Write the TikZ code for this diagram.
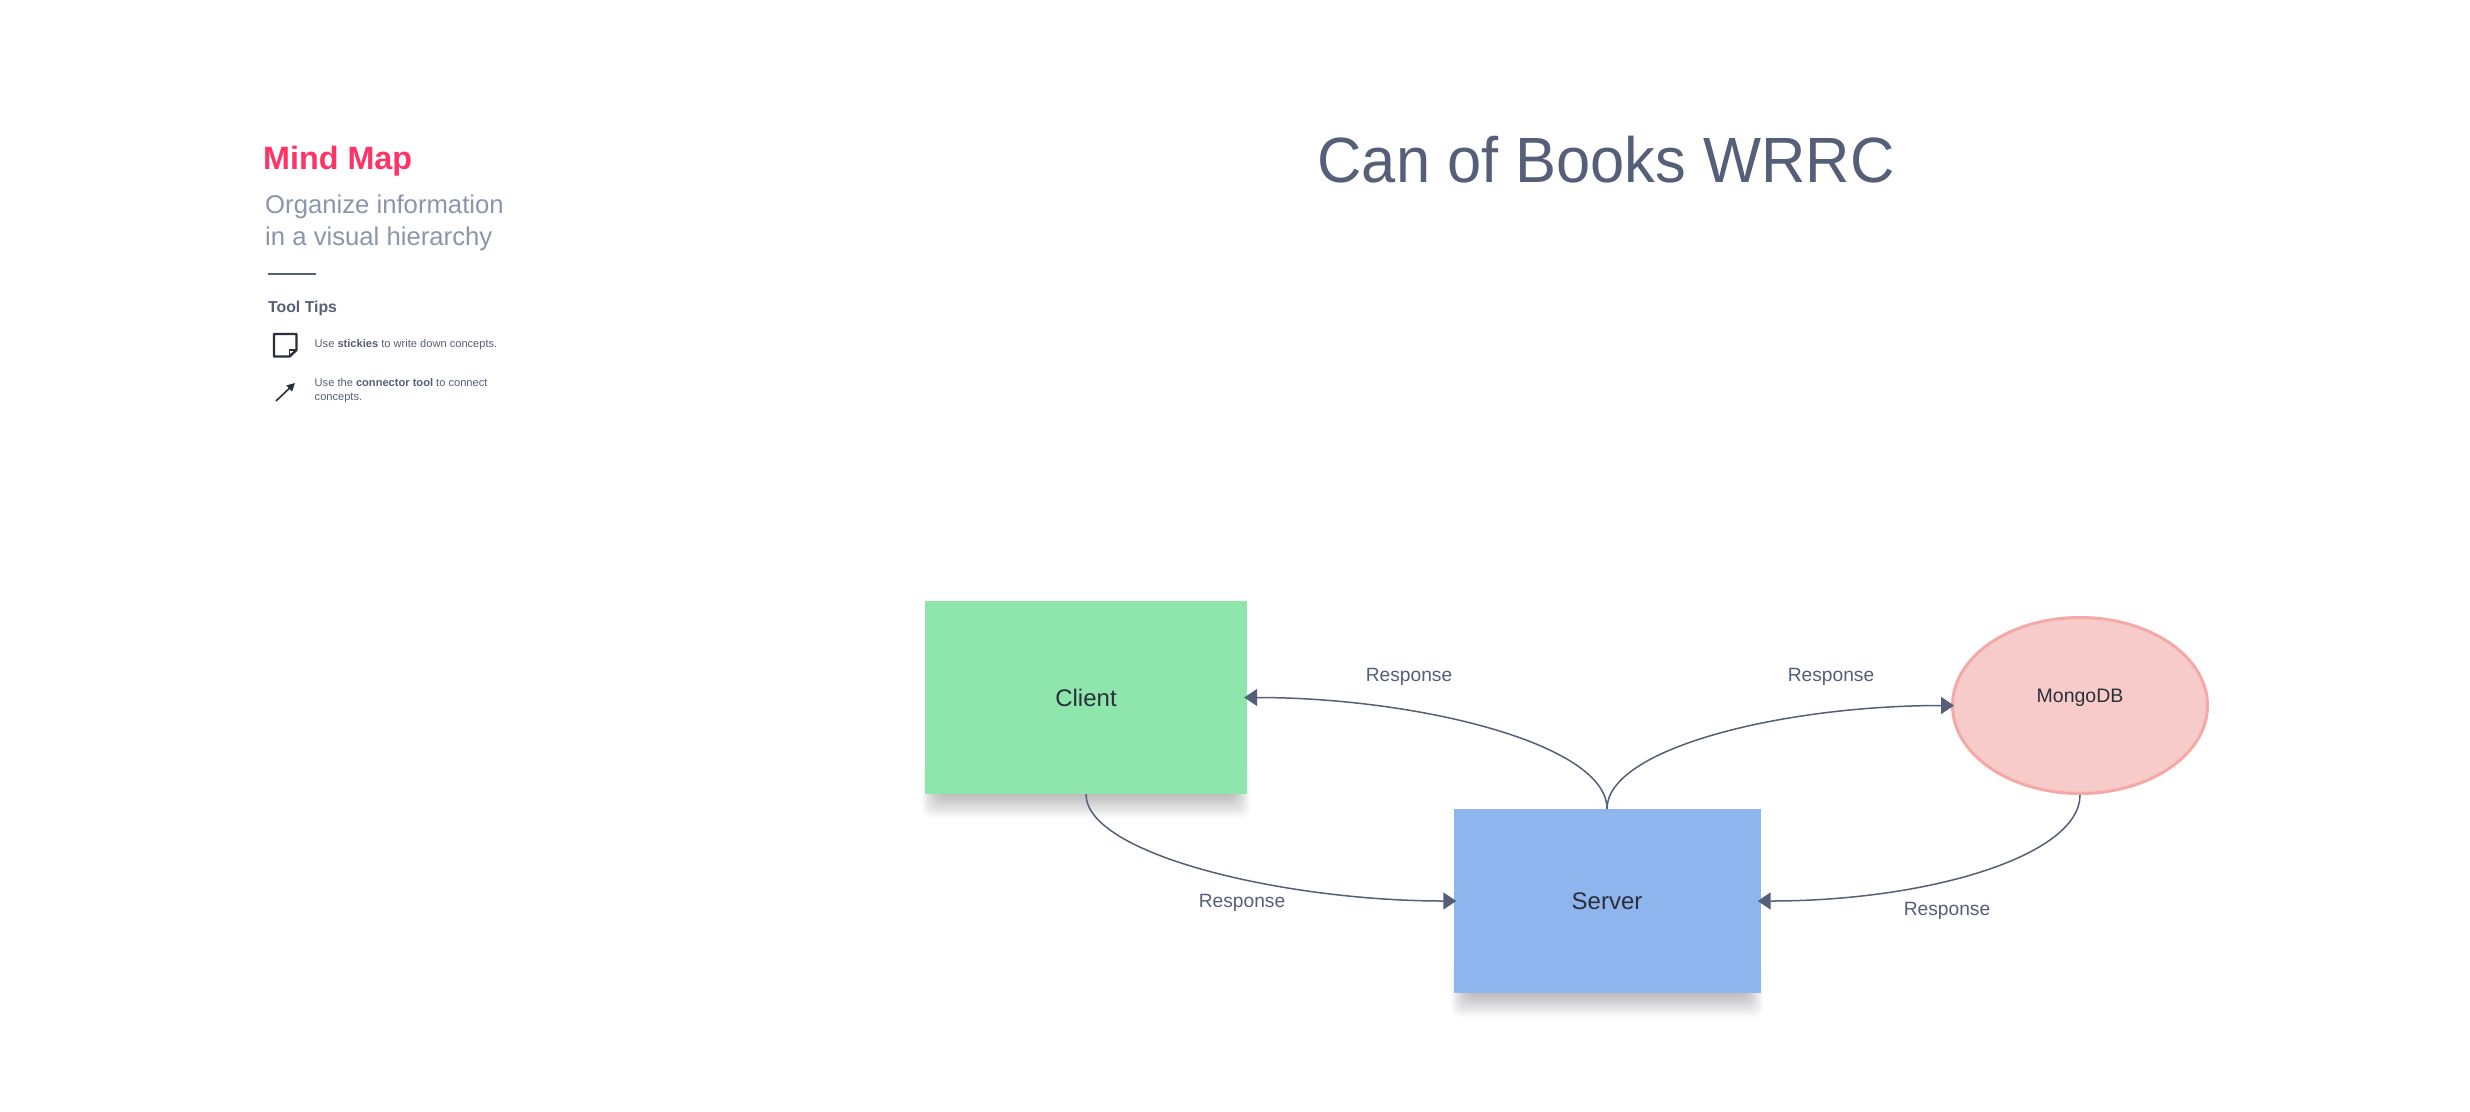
\documentclass[tikz,border=0pt]{standalone}
\usepackage{fontspec}
\setmainfont{Liberation Sans}
\usetikzlibrary{arrows.meta,shapes.geometric}
\definecolor{cgreen}{HTML}{8EE6AD}
\definecolor{cblue}{HTML}{8FB5EE}
\definecolor{cpink}{HTML}{F8CBCB}
\definecolor{cpinkb}{HTML}{F4A9A7}
\definecolor{cline}{HTML}{555F78}
\definecolor{cred}{HTML}{FF3366}
\definecolor{cgray}{HTML}{8C96AB}
\definecolor{cink}{HTML}{2A2F3A}
\newcommand{\fs}[1]{\fontsize{#1}{#1}\selectfont}
\newcommand{\softshadow}[4]{%
  \foreach \k in {0,...,13}{
    \fill[black,opacity=0.02,rounded corners=9pt]
      ({#1+\k*1.3-3},{#4-30}) rectangle ({#3-\k*1.3+3},{#4+24-\k*1.8});
  }}
\tikzset{
  boxnode/.style={rectangle,inner sep=0pt,text=cink,font=\fs{24}},
  conn/.style={draw=cline,line width=1.5pt,-{Triangle[length=13pt,width=17pt]},shorten >=-3pt},
  resp/.style={inner sep=0pt,text=cline,font=\fs{19.2}},
  lefttext/.style={inner sep=0pt,anchor=base west},
}
\begin{document}
\begin{tikzpicture}[x=1pt,y=-1pt]
\useasboundingbox (0,0) rectangle (2470,1111);
\fill[white] (0,0) rectangle (2470,1111);
% sidebar
\node[lefttext,text=cred,font=\fs{32.3}\bfseries] (mm) at (263,169) {Mind Map};
\node[lefttext,text=cgray,font=\fs{25.7}] (org1) at (265,213) {Organize information};
\node[lefttext,text=cgray,font=\fs{25.7}] (org2) at (265,245) {in a visual hierarchy};
\coordinate (r1) at (268,274);
\coordinate (r2) at (316,274);
\draw[cline,line width=1.5pt] (r1) -- (r2);
\node[lefttext,text=cline,font=\fs{15.8}\bfseries] (tt) at (268,312) {Tool Tips};
\draw[cink,line width=2.4pt,line join=round] (274,334) -- (296.5,334) -- (296.5,350) -- (289.5,356.5) -- (274,356.5) -- cycle;
\draw[cink,line width=1.5pt,line join=round] (296.5,350) -- (289.5,350) -- (289.5,356.5);
\node[lefttext,text=cline,font=\fs{11.1}] (t1) at (314.5,347) {Use \textbf{stickies} to write down concepts.};
\coordinate (ia) at (276,401);
\coordinate (ib) at (295,383);
\draw[cink,line width=1.6pt,-{Triangle[length=8pt,width=8pt]}] (ia) -- (ib);
\node[lefttext,text=cline,font=\fs{11.1}] (t2) at (314.5,386) {Use the \textbf{connector tool} to connect};
\node[lefttext,text=cline,font=\fs{11.1}] (t3) at (314.5,400) {concepts.};
% title
\node[inner sep=0pt,text=cline,font=\fs{64},anchor=base] (title) at (1606,182) {\scalebox{0.96}[1]{Can of Books WRRC}};
% shadows
\softshadow{925}{601}{1247}{794}
\softshadow{1454}{809}{1760}{993}
% nodes
\node[boxnode,fill=cgreen,minimum width=322pt,minimum height=193pt] (client) at (1086,697.5) {Client};
\node[boxnode,fill=cblue,minimum width=307pt,minimum height=184pt] (server) at (1607,901) {Server};
\node[ellipse,inner sep=0pt,draw=cpinkb,line width=3pt,fill=cpink,minimum width=255pt,minimum height=176pt] (mongo) at (2080,705.5) {};
\node[inner sep=0pt,text=cink,font=\fs{19.5}] (mongot) at (2080,698) {MongoDB};
% connectors
\draw[conn] (client.south) .. controls +(0,60) and +(-170,0) .. (server.west);
\draw[conn] (server.north) .. controls +(0,-65) and +(170,0) .. (client.east);
\draw[conn] (server.north) .. controls +(0,-60) and +(-170,0) .. (mongo.west);
\draw[conn] (mongo.south) .. controls +(0,60) and +(170,0) .. (server.east);
% labels
\node[resp] (l1) at (1409,677) {Response};
\node[resp] (l2) at (1242,903) {Response};
\node[resp] (l3) at (1831,677) {Response};
\node[resp] (l4) at (1947,911) {Response};
\end{tikzpicture}
\end{document}
